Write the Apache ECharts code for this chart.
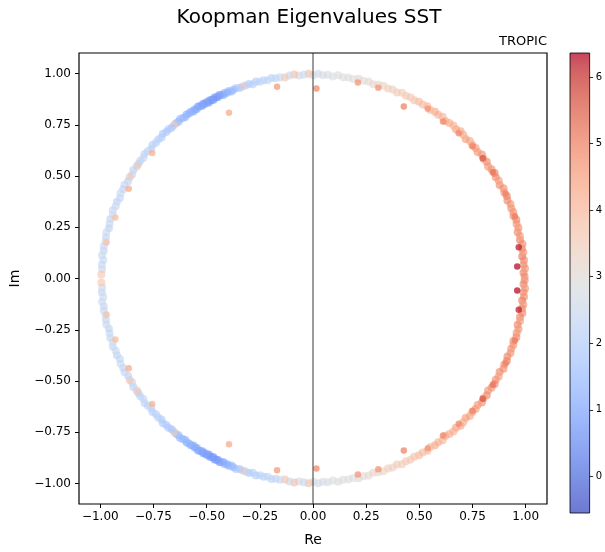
<!DOCTYPE html>
<html>
<head>
<meta charset="utf-8">
<script src="https://cdn.jsdelivr.net/npm/echarts@6/dist/echarts.min.js"></script>
<style>html,body{margin:0;padding:0;background:#fff;}#c{width:605px;height:552px;}</style>
</head>
<body>
<div id="c"></div>
<script>
// ---- DATA (upper half; eigenvalues come in conjugate pairs) ----
// ring eigenvalues: argument (degrees), modulus, colour value
const ringArg = [
  0.5,1.6,2.8,3.9,5.1,6.2,7.4,8.5,9.7,10.9,12.0,13.2,14.4,15.5,16.7,17.9,19.0,
  20.2,21.4,22.6,23.8,25.0,26.2,27.5,28.7,29.9,31.1,32.4,33.6,34.9,36.1,37.3,38.6,39.8,
  41.0,42.3,43.5,44.8,46.0,47.3,48.5,49.8,51.0,52.3,53.6,54.8,56.1,57.4,58.7,60.0,
  61.3,62.6,63.9,65.2,66.5,67.9,69.2,70.6,72.0,73.4,74.8,76.2,77.6,79.0,
  80.4,81.8,83.2,84.6,86.0,87.3,88.6,89.9,91.2,92.5,93.8,95.1,96.4,97.7,99.0,
  100.2,101.3,102.4,103.5,104.6,105.6,106.6,107.6,108.6,109.5,110.4,111.3,
  112.1,112.8,113.4,114.0,114.6,115.2,115.7,116.2,116.7,117.2,117.7,118.2,118.7,119.2,119.7,120.2,120.7,121.2,121.7,122.2,122.8,123.4,124.0,124.6,125.2,125.9,126.6,127.3,128.0,128.8,129.6,130.4,131.2,
  132.1,133.0,134.0,135.0,136.0,137.0,138.1,139.2,140.3,141.4,142.5,143.6,144.7,145.8,146.6,147.9,149.2,
  150.1,151.4,152.7,154.0,155.3,156.6,157.9,159.2,160.5,161.8,163.1,164.4,165.7,167.0,168.3,169.6,170.9,172.2,173.5,174.8,176.1,177.4,178.9
];
const ringMod = [
  0.995,0.990,0.998,0.992,0.996,0.989,0.997,0.993,0.999,0.991,0.995,0.988,0.997,0.993,0.998,0.990,0.996,
  0.993,0.997,0.990,0.996,0.992,0.998,0.989,0.995,0.991,0.997,0.994,0.988,0.996,0.992,0.998,0.990,0.995,
  0.992,0.997,0.989,0.995,0.999,0.991,0.996,0.993,0.988,0.997,0.992,0.995,0.990,0.998,0.993,0.996,
  0.991,0.996,0.993,0.998,0.990,0.995,0.992,0.997,0.994,0.989,0.996,0.993,0.998,0.991,
  0.995,0.992,0.998,0.990,0.996,0.993,0.999,0.991,0.999,0.995,0.992,0.999,0.996,0.990,0.994,
  0.993,0.997,0.990,0.995,0.992,0.998,0.989,0.996,0.993,0.994,0.991,0.997,
  0.994,0.990,0.997,0.992,0.996,0.989,0.995,0.998,0.991,0.994,0.997,0.990,0.993,0.996,0.988,0.995,0.992,0.997,0.990,0.994,0.998,0.991,0.995,0.989,0.996,0.993,0.997,0.990,0.994,0.998,0.992,0.995,0.993,
  0.991,0.996,0.993,0.998,0.990,0.995,0.992,0.997,0.989,0.994,0.998,0.991,0.995,0.993,0.992,0.997,0.990,
  0.994,0.990,0.997,0.993,0.996,0.989,0.995,0.992,0.998,0.991,0.996,0.993,0.990,0.997,0.994,0.991,0.996,0.993,0.998,0.990,0.995,0.992,0.995
];
const ringVal = [
  4.8,5.0,4.7,4.9,4.8,5.1,4.7,4.9,4.8,5.0,4.6,4.9,4.8,4.7,4.9,4.8,4.7,
  4.8,4.7,4.9,5.0,4.7,4.8,4.9,4.6,4.8,5.0,4.8,4.7,4.9,4.6,4.8,4.7,4.6,
  4.5,4.4,4.6,4.3,4.4,4.5,4.2,4.3,4.4,4.1,4.2,4.3,4.0,4.1,3.9,4.0,
  3.8,3.6,3.7,3.5,3.6,3.4,3.5,3.3,3.2,3.3,3.1,3.0,3.1,2.9,
  2.9,3.0,2.8,2.9,2.7,2.8,2.6,2.7,3.9,2.5,2.6,3.9,2.4,3.8,2.4,
  2.3,2.2,2.3,2.1,2.2,2.0,2.1,1.9,2.0,3.8,1.8,1.9,
  1.5,1.4,1.5,1.2,1.3,1.1,1.2,0.9,1.0,0.8,0.9,0.7,0.8,0.9,0.7,0.8,1.0,0.8,0.9,1.0,0.9,1.1,1.0,1.2,1.1,1.3,1.2,1.4,1.3,1.5,1.4,1.6,3.8,
  1.7,1.8,1.8,1.9,1.9,2.0,2.1,2.0,2.1,2.2,2.1,2.3,2.2,2.1,3.8,2.2,2.3,
  3.8,2.2,2.3,2.2,2.4,2.3,2.2,2.4,2.3,2.5,2.3,2.4,2.2,2.4,2.3,2.5,2.4,2.3,2.5,2.4,2.3,2.5,3.7
];
// eigenvalues off the unit circle (upper half)
const offRe  = [-0.395,-0.169,0.016,-0.756,-0.866,-0.929,-0.971,0.211,0.307,0.427,0.611,0.750,0.798,0.845,0.905,0.949,0.967,0.960,0.685,0.540];
const offIm  = [ 0.809, 0.935,0.927, 0.612, 0.438, 0.298, 0.176,0.956,0.930,0.839,0.766,0.645,0.586,0.518,0.414,0.303,0.152,0.058,0.709,0.828];
const offVal = [ 4.3, 4.6, 4.9, 4.2, 4.3, 3.9, 3.8, 4.7, 4.7, 5.0, 4.9, 5.0, 5.6, 5.2, 5.0, 5.1, 6.2, 6.3, 4.9, 4.7];

const axisTicks = [-1,-0.75,-0.5,-0.25,0,0.25,0.5,0.75,1];
const cbarTicks = [0,1,2,3,4,5,6];
const cMin = -0.55, cMax = 6.36;
const axMin = -1.1, axMax = 1.1;

// coolwarm colormap stops
const coolwarm = [
 [59,76,192],[68,90,204],[77,104,215],[87,117,225],[98,130,234],[108,142,241],[119,154,247],[130,165,251],
 [141,176,254],[152,185,255],[163,194,255],[174,201,253],[184,208,249],[194,213,244],[204,217,238],[213,219,230],
 [221,221,221],[229,216,209],[236,211,197],[241,204,185],[245,196,173],[247,187,160],[247,177,148],[247,166,135],
 [244,154,123],[241,141,111],[236,127,99],[229,112,88],[222,96,77],[213,80,66],[203,62,56],[192,40,47],[180,4,38]
];
const cwColors = coolwarm.map(c => 'rgb(' + c.join(',') + ')');
const ALPHA = 0.75;

// ---- build series data ----
const ringData = [];
ringArg.forEach((a, i) => {
  const r = ringMod[i], th = a * Math.PI / 180;
  ringData.push([r * Math.cos(th), r * Math.sin(th), ringVal[i]]);
  ringData.push([r * Math.cos(th), -r * Math.sin(th), ringVal[i]]);
});
const offData = [];
offRe.forEach((x, i) => {
  offData.push([x, offIm[i], offVal[i]]);
  offData.push([x, -offIm[i], offVal[i]]);
});

const fmt = v => (v < 0 ? '\u2212' : '') + Math.abs(v).toFixed(2);
const FONT = 'DejaVu Sans';

const chart = echarts.init(document.getElementById('c'), null, {renderer: 'canvas'});
const gradStops = coolwarm.map((c, i) => ({offset: i / (coolwarm.length - 1), color: 'rgba(' + c.join(',') + ',' + ALPHA + ')'}));

chart.setOption({
  animation: false,
  backgroundColor: '#fff',
  textStyle: {fontFamily: FONT},
  grid: [
    {left: 76, right: 58, top: 53, bottom: 38, show: true, borderColor: '#000', borderWidth: 1.2, backgroundColor: 'transparent'},
    {left: 570, width: 24, top: 53, bottom: 39, show: false}
  ],
  xAxis: [
    {type: 'value', gridIndex: 0, min: axMin, max: axMax,
     name: 'Re', nameLocation: 'middle', nameGap: 29, nameTextStyle: {fontSize: 14, color: '#000', fontFamily: FONT},
     axisLine: {show: false, onZero: false}, splitLine: {show: false},
     axisTick: {show: true, length: 4, lineStyle: {color: '#000', width: 1}, customValues: axisTicks},
     axisLabel: {color: '#000', fontSize: 12, margin: 7, fontFamily: FONT, customValues: axisTicks, formatter: fmt}},
    {type: 'value', gridIndex: 1, min: 0, max: 1, show: false}
  ],
  yAxis: [
    {type: 'value', gridIndex: 0, min: axMin, max: axMax,
     name: 'Im', nameLocation: 'middle', nameGap: 57, nameRotate: 90, nameTextStyle: {fontSize: 14, color: '#000', fontFamily: FONT},
     axisLine: {show: false, onZero: false}, splitLine: {show: false},
     axisTick: {show: true, length: 4, lineStyle: {color: '#000', width: 1}, customValues: axisTicks},
     axisLabel: {color: '#000', fontSize: 12, margin: 8, fontFamily: FONT, customValues: axisTicks, formatter: fmt}},
    {type: 'value', gridIndex: 1, min: cMin, max: cMax, position: 'right',
     axisLine: {show: false, onZero: false}, splitLine: {show: false},
     axisTick: {show: true, length: 3.5, lineStyle: {color: '#000', width: 0.8}, customValues: cbarTicks},
     axisLabel: {color: '#000', fontSize: 10, margin: 6, fontFamily: FONT, customValues: cbarTicks, formatter: v => String(v)}}
  ],
  visualMap: [{
    show: false, type: 'continuous', seriesIndex: [0, 1], dimension: 2,
    min: cMin, max: cMax, inRange: {color: cwColors}
  }],
  series: [
    {type: 'scatter', xAxisIndex: 0, yAxisIndex: 0, data: ringData, symbolSize: 8,
     itemStyle: {opacity: 0.65}, z: 2},
    {type: 'scatter', xAxisIndex: 0, yAxisIndex: 0, data: offData, symbolSize: 6.5,
     itemStyle: {opacity: ALPHA}, z: 3},
    {type: 'line', xAxisIndex: 0, yAxisIndex: 0, data: [[0, axMin], [0, axMax]], symbol: 'none',
     lineStyle: {color: '#222', width: 0.9}, z: 4, silent: true},
    {type: 'custom', xAxisIndex: 1, yAxisIndex: 1, data: [[0, cMin]], silent: true,
     renderItem: function (params, api) {
       const p0 = api.coord([0, cMax]);
       const p1 = api.coord([1, cMin]);
       return {
         type: 'rect',
         shape: {x: p0[0], y: p0[1], width: p1[0] - p0[0], height: p1[1] - p0[1]},
         style: {fill: new echarts.graphic.LinearGradient(0, 1, 0, 0, gradStops), stroke: '#000', lineWidth: 0.8}
       };
     }}
  ],
  graphic: [
    {type: 'text', x: 309, y: 18, style: {text: 'Koopman Eigenvalues SST', fontSize: 20, fontFamily: FONT, fill: '#000', textAlign: 'center', textVerticalAlign: 'middle'}},
    {type: 'text', x: 547, y: 42, style: {text: 'TROPIC', fontSize: 13, fontFamily: FONT, fill: '#000', textAlign: 'right', textVerticalAlign: 'middle'}}
  ]
});
</script>
</body>
</html>
